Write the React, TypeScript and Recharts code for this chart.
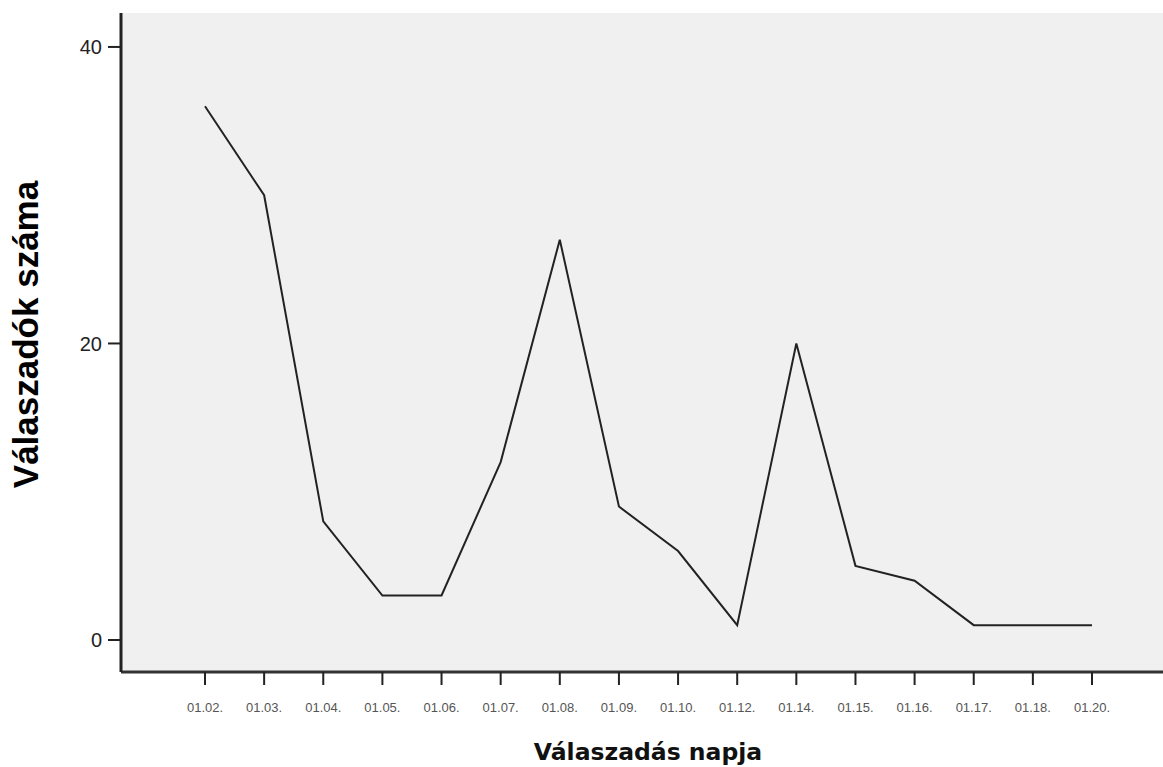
import React from "react";
import { LineChart, Line, XAxis, YAxis, CartesianGrid } from "recharts";

const days = [
  "01.02.", "01.03.", "01.04.", "01.05.", "01.06.", "01.07.", "01.08.", "01.09.",
  "01.10.", "01.12.", "01.14.", "01.15.", "01.16.", "01.17.", "01.18.", "01.20.",
];
const respondents = [36, 30, 8, 3, 3, 12, 27, 9, 6, 1, 20, 5, 4, 1, 1, 1];
const yTicks = [0, 20, 40];

const data = days.map((day, i) => ({ day, count: respondents[i] }));

const YLabel = (props: any) => {
  const { viewBox } = props;
  const cx = viewBox.x + 25;
  const cy = viewBox.y + viewBox.height / 2 - 8;
  return (
    <text
      x={cx}
      y={cy}
      transform={`rotate(-90, ${cx}, ${cy})`}
      textAnchor="middle"
      dominantBaseline="central"
      fontFamily="'Liberation Sans', Arial, sans-serif"
      fontWeight="bold"
      fontSize={35}
      fill="#000"
    >
      Válaszadók száma
    </text>
  );
};

const XLabel = (props: any) => {
  const { viewBox } = props;
  return (
    <text
      x={viewBox.x + viewBox.width / 2 + 6}
      y={viewBox.y + 88}
      textAnchor="middle"
      fontFamily="'DejaVu Sans', Verdana, sans-serif"
      fontWeight="bold"
      fontSize={23.5}
      fill="#111"
    >
      Válaszadás napja
    </text>
  );
};

export default function App() {
  return (
    <div style={{ position: "absolute", left: 0, top: 0, background: "#fff" }}>
      <LineChart
        width={1163}
        height={767}
        data={data}
        margin={{ top: 13, right: 0, bottom: 0, left: 0 }}
      >
        <CartesianGrid fill="#f0f0f0" horizontal={false} vertical={false} />
        <XAxis
          dataKey="day"
          height={95}
          padding={{ left: 84, right: 71 }}
          interval={0}
          tickSize={13}
          tickMargin={18}
          tickLine={{ stroke: "#222", strokeWidth: 2 }}
          axisLine={{ stroke: "#333", strokeWidth: 3 }}
          tick={{
            fontSize: 13,
            fill: "#555",
            fontFamily: "'Liberation Sans', Arial, sans-serif",
          }}
          label={<XLabel />}
        />
        <XAxis
          xAxisId="top"
          orientation="top"
          dataKey="day"
          height={0}
          tick={false}
          tickLine={false}
          axisLine={{ stroke: "#8c8c8c", strokeWidth: 3 }}
        />
        <YAxis
          type="number"
          width={121}
          domain={[-2.16, 42.29]}
          allowDataOverflow
          ticks={yTicks}
          tickSize={13}
          tickMargin={6}
          tickLine={{ stroke: "#222", strokeWidth: 2 }}
          axisLine={{ stroke: "#222", strokeWidth: 3 }}
          tick={{
            fontSize: 20,
            fill: "#222",
            fontFamily: "'Liberation Sans', Arial, sans-serif",
          }}
          label={<YLabel />}
        />
        <Line
          type="linear"
          dataKey="count"
          stroke="#222"
          strokeWidth={2}
          dot={false}
          isAnimationActive={false}
        />
      </LineChart>
    </div>
  );
}
